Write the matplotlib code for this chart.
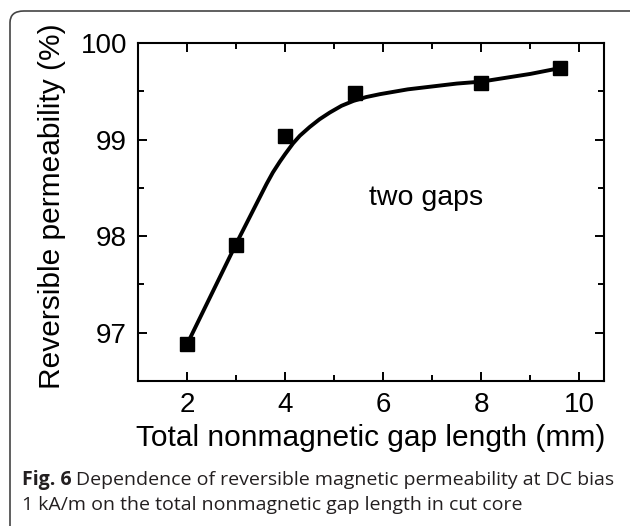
import matplotlib
matplotlib.use("Agg")
import matplotlib.pyplot as plt
from matplotlib.patches import FancyBboxPatch
from matplotlib.ticker import MultipleLocator

plt.rcParams["font.family"] = ["Liberation Sans", "DejaVu Sans"]

# measured points
gap_mm = [2.0, 3.0, 4.0, 5.42, 8.0, 9.61]
perm_pct = [96.88, 97.91, 99.04, 99.48, 99.59, 99.74]

# fitted curve
fit_x = [2.0, 2.5, 3.0, 3.2, 3.35, 3.5, 3.62, 3.75, 3.89, 4.0, 4.16, 4.3,
         4.5, 4.7, 4.91, 5.15, 5.39, 5.65, 5.93, 6.5, 7.0, 7.5, 8.0, 8.5,
         9.0, 9.6]
fit_y = [96.88, 97.40, 97.92, 98.12, 98.27, 98.42, 98.54, 98.66, 98.77,
         98.85, 98.96, 99.04, 99.13, 99.21, 99.28, 99.35, 99.40, 99.44,
         99.47, 99.52, 99.55, 99.58, 99.60, 99.64, 99.68, 99.74]

xticks = [2, 4, 6, 8, 10]
yticks = [97, 98, 99, 100]

W, H = 630, 526
fig = plt.figure(figsize=(W / 100, H / 100), dpi=100)

# rounded frame (cut off at right and bottom like the source)
frame = FancyBboxPatch((10 / W, -20 / H), 1.2, (H - 11 + 20) / H,
                       boxstyle="round,pad=0,rounding_size=0.022",
                       transform=fig.transFigure, facecolor="none",
                       edgecolor="#444444", linewidth=1.2, clip_on=False)
fig.patches.append(frame)

ax = fig.add_axes([138 / W, 1 - 381 / H, (604 - 138) / W, (381 - 43) / H])
ax.plot(fit_x, fit_y, color="black", lw=2.8, solid_capstyle="round",
        solid_joinstyle="round")
ax.plot(gap_mm, perm_pct, ls="none", marker="s", ms=10, color="black")

ax.set_xlim(1, 10.5)
ax.set_ylim(96.5, 100)
ax.set_xticks(xticks)
ax.set_yticks(yticks)
ax.xaxis.set_minor_locator(MultipleLocator(1))
ax.yaxis.set_minor_locator(MultipleLocator(0.5))
ax.tick_params(which="both", direction="in", top=True, right=True,
               width=1.4, labelsize=20, colors="black")
ax.tick_params(which="major", length=6.5)
ax.tick_params(which="minor", length=4.5)
ax.tick_params(axis="x", pad=8)
ax.tick_params(axis="y", pad=8)
for s in ax.spines.values():
    s.set_linewidth(1.5)

ax.set_xlabel("Total nonmagnetic gap length (mm)", fontsize=21.5, labelpad=4)
ax.set_ylabel("Reversible permeability (%)", fontsize=21.5)
ax.yaxis.set_label_coords(-0.155, 0.518)
ax.text(6.87, 98.39, "two gaps", fontsize=20.5, ha="center", va="center")

# caption
cap_font = ["Open Sans", "DejaVu Sans"]
t1 = fig.text(22 / W, 1 - 480 / H, "Fig. 6", fontsize=14, fontweight="bold",
              family=cap_font, color="#231f20", va="center")
fig.canvas.draw()
bb = t1.get_window_extent()
fig.text(bb.x1 / W + 4 / W, 1 - 480 / H,
         "Dependence of reversible magnetic permeability at DC bias",
         fontsize=14, family=cap_font, color="#231f20", va="center")
fig.text(22 / W, 1 - 505 / H,
         "1 kA/m on the total nonmagnetic gap length in cut core",
         fontsize=14, family=cap_font, color="#231f20", va="center")

fig.savefig("out.png", dpi=100)
